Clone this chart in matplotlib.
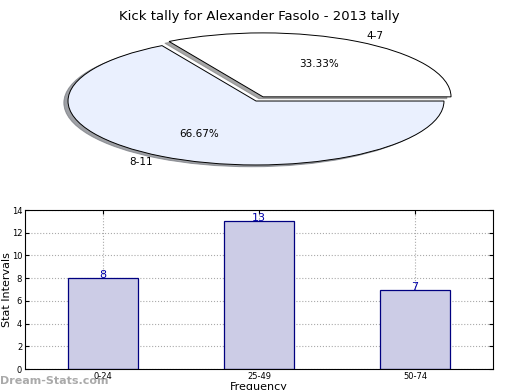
import matplotlib
matplotlib.use("Agg")
import matplotlib.pyplot as plt

# pie data
pie_labels = ["4-7", "8-11"]
pie_values = [1, 2]
pie_colors = ["#ffffff", "#eaf0fe"]

# bar data
bar_labels = ["0-24", "25-49", "50-74"]
bar_values = [8, 13, 7]

fig = plt.figure(figsize=(5.2, 3.9), dpi=100)

fig.text(0.498, 0.975, "Kick tally for Alexander Fasolo - 2013 tally",
         ha="center", va="top", fontsize=9.5)

# top: squashed pie
ax1 = fig.add_axes([0.1308, 0.577, 0.723, 0.328])
wedges, texts, autotexts = ax1.pie(
    pie_values, labels=pie_labels, colors=pie_colors, autopct="%.2f%%",
    explode=[0.075, 0], startangle=0,
    shadow={"ox": -0.016, "oy": -0.02, "shade": 0.5, "alpha": 0.7},
    wedgeprops={"edgecolor": "black", "linewidth": 0.7},
    textprops={"fontsize": 7.5})
ax1.set_aspect("auto")
ax1.set_xlim(-1, 1)
ax1.set_ylim(-1, 1)
ax1.axis("off")

# bottom: bar chart
ax2 = fig.add_axes([0.048, 0.0538, 0.9, 0.4077])
x = range(len(bar_values))
ax2.bar(x, bar_values, width=0.45, color="#ccccE6", edgecolor="#000080",
        linewidth=0.9, zorder=2)
for xi, v in zip(x, bar_values):
    ax2.text(xi, v, str(v), ha="center", va="baseline", color="#0000aa",
             fontsize=8, zorder=3)
ax2.set_xlim(-0.5, 2.5)
ax2.set_ylim(0, 14)
ax2.set_yticks(range(0, 15, 2))
ax2.set_xticks(list(x))
ax2.set_xticklabels(bar_labels)
ax2.tick_params(labelsize=6, direction="in", top=True, right=True, length=3,
                pad=2)
ax2.grid(True, linestyle=":", color="#aaaaaa", linewidth=0.8, zorder=0)
ax2.set_axisbelow(True)
ax2.set_ylabel("Stat Intervals", fontsize=8, labelpad=0)
ax2.set_xlabel("Frequency", fontsize=8, labelpad=1)

fig.text(0.0, 0.01, "Dream-Stats.com", fontsize=8, color="#aaaaaa",
         fontweight="bold", ha="left", va="bottom")

fig.savefig("out.png", dpi=100)
